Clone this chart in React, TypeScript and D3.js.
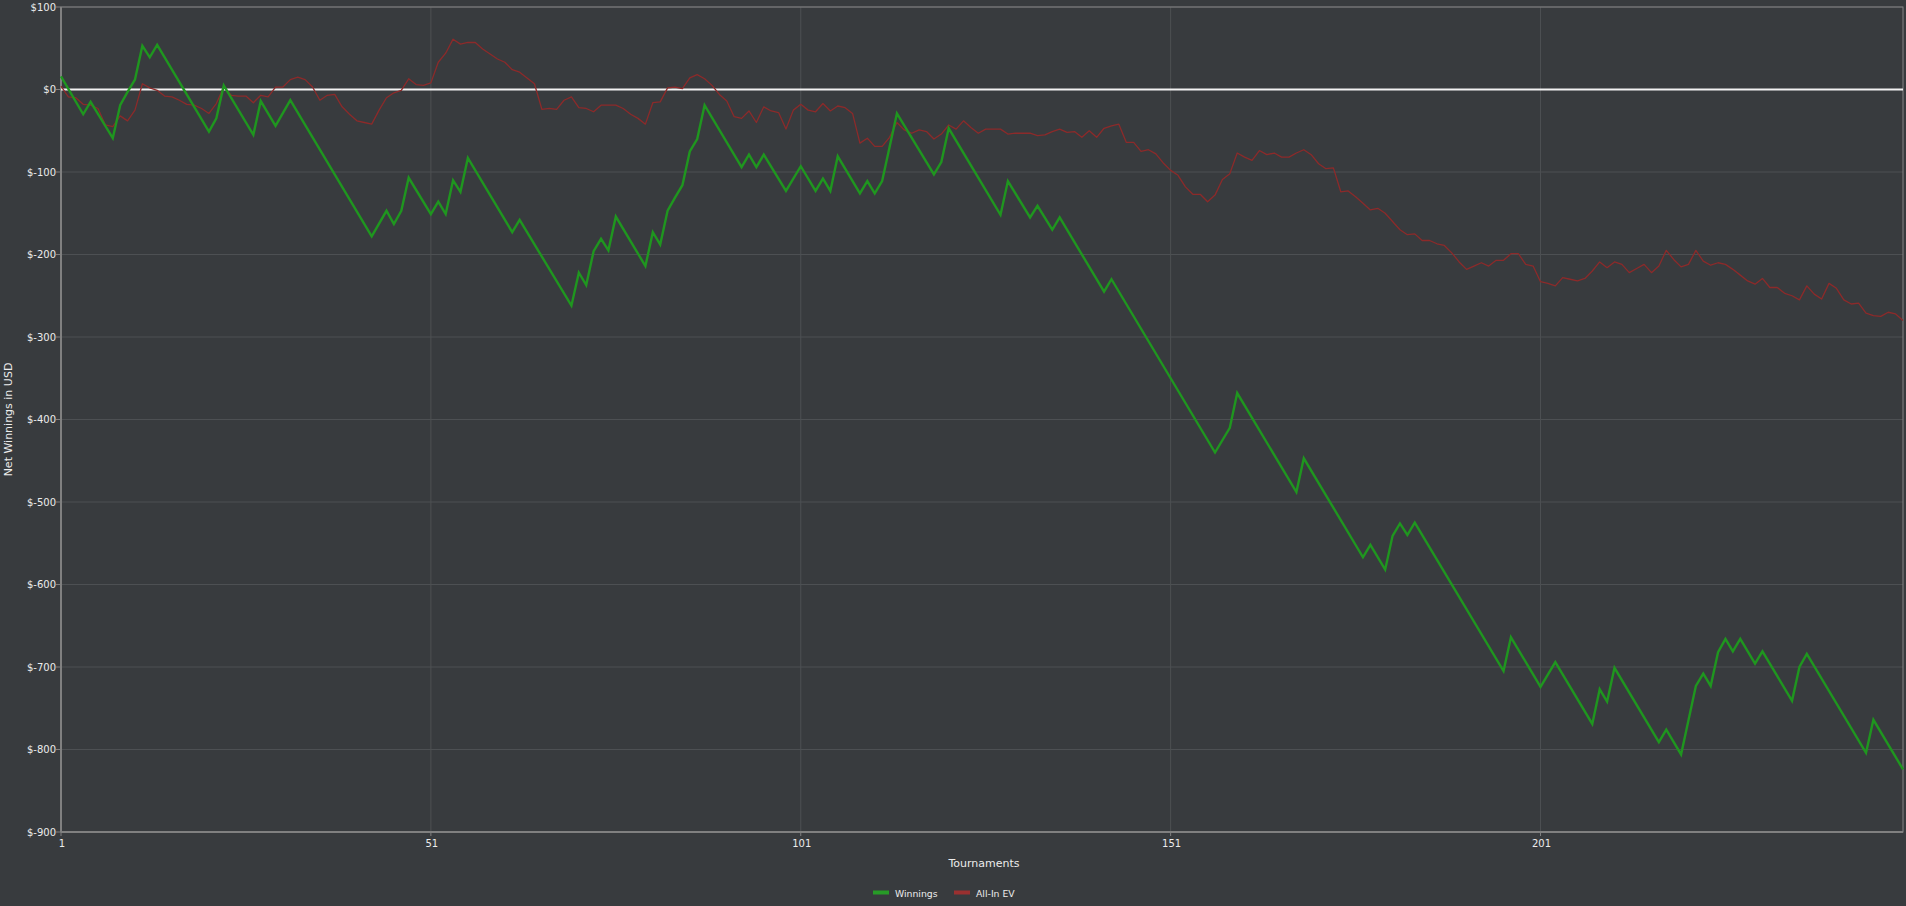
import React, { useEffect, useRef } from 'react';
import * as d3 from 'd3';

// Winnings (green) - turning points of the cumulative line
const winningsAt = [
  1, 4, 5, 8, 9, 10, 11, 12, 13, 14, 21, 22, 23, 27, 28, 30, 32, 43, 45, 46,
  47, 48, 51, 52, 53, 54, 55, 56, 62, 63, 70, 71, 72, 73, 74, 75, 76, 80, 81, 82,
  83, 84, 85, 86, 87, 88, 93, 94, 95, 96, 99, 101, 103, 104, 105, 106, 109, 110, 111, 112,
  114, 119, 120, 121, 128, 129, 132, 133, 135, 136, 142, 143, 157, 159, 160, 168, 169, 177, 178, 180,
  181, 182, 183, 184, 196, 197, 201, 203, 208, 209, 210, 211, 217, 218, 220, 222, 223, 224, 225, 226,
  227, 228, 230, 231, 235, 236, 237, 245, 246, 250,
];
const winnings = [
  16, -30, -15, -59, -19, -3, 12, 53, 39, 54, -51, -35, 5, -55, -14, -44, -13, -178, -147, -163,
  -147, -107, -151, -136, -151, -110, -124, -83, -173, -158, -262, -222, -237, -196, -181, -195, -154, -214, -173, -188,
  -147, -131, -116, -75, -60, -19, -94, -79, -94, -79, -123, -93, -123, -108, -123, -81, -126, -111, -126, -111,
  -29, -103, -88, -47, -152, -111, -155, -141, -170, -155, -245, -230, -440, -410, -368, -488, -447, -567, -552, -582,
  -541, -526, -540, -525, -705, -664, -724, -694, -769, -727, -742, -701, -791, -776, -806, -723, -708, -723, -682, -666,
  -681, -666, -696, -681, -741, -700, -684, -804, -764, -824,
];

// All-In EV (red) - one value per tournament, 1..250
const allInEV = [
  4, -9, -10, -18, -19, -23, -43, -45, -32, -38,
  -25, 7, 2, -1, -8, -9, -13, -18, -19, -23,
  -29, -17, 3, -7, -8, -8, -16, -7, -9, 3,
  3, 12, 15, 12, 3, -13, -7, -6, -21, -30,
  -38, -40, -42, -25, -10, -4, -1, 13, 6, 5,
  8, 33, 44, 61, 55, 57, 57, 49, 43, 37,
  33, 24, 21, 14, 7, -24, -23, -24, -13, -9,
  -22, -23, -27, -19, -19, -19, -23, -30, -35, -42,
  -16, -15, 2, 3, 1, 14, 18, 13, 5, -6,
  -14, -33, -35, -26, -40, -21, -26, -28, -48, -25,
  -18, -25, -27, -17, -26, -20, -22, -29, -65, -59,
  -69, -69, -58, -40, -49, -53, -49, -51, -60, -54,
  -43, -48, -38, -46, -53, -48, -48, -48, -54, -53,
  -53, -53, -56, -55, -51, -48, -52, -51, -58, -50,
  -58, -47, -44, -42, -64, -64, -75, -73, -78, -89,
  -98, -104, -118, -127, -127, -136, -128, -109, -102, -77,
  -82, -86, -74, -79, -77, -82, -82, -77, -73, -79,
  -90, -96, -95, -124, -123, -130, -138, -146, -144, -150,
  -160, -170, -176, -175, -183, -183, -187, -189, -198, -209,
  -218, -214, -210, -214, -207, -207, -199, -199, -212, -214,
  -233, -235, -238, -228, -230, -232, -229, -220, -209, -216,
  -209, -212, -222, -217, -212, -222, -214, -195, -206, -215,
  -212, -195, -208, -213, -210, -212, -218, -225, -232, -236,
  -229, -240, -240, -247, -250, -255, -238, -248, -254, -235,
  -241, -255, -260, -259, -271, -274, -275, -270, -272, -280,
];

const yTicks = [100, 0, -100, -200, -300, -400, -500, -600, -700, -800, -900];
const xTicks = [1, 51, 101, 151, 201];

const legendItems = [
  { name: 'Winnings', color: '#279b27' },
  { name: 'All-In EV', color: '#9a3030' },
];

const WIDTH = 1906;
const HEIGHT = 906;
const FONT = '"DejaVu Sans", Verdana, sans-serif';

export default function App() {
  const ref = useRef<SVGSVGElement>(null);

  useEffect(() => {
    document.body.style.margin = '0';
    document.body.style.background = '#383b3e';
    if (!ref.current) return;
    const svg = d3.select(ref.current);
    svg.selectAll('*').remove();

    const left = 61, right = 1903, top = 7, bottom = 832;

    const x = d3.scaleLinear().domain([1, 250]).range([left, right]);
    const y = d3.scaleLinear().domain([-900, 100]).range([bottom, top]);

    svg.append('rect')
      .attr('width', WIDTH)
      .attr('height', HEIGHT)
      .attr('fill', '#383b3e');

    // grid
    svg.append('g')
      .selectAll('line')
      .data(yTicks)
      .enter()
      .append('line')
      .attr('x1', left)
      .attr('x2', right)
      .attr('y1', d => y(d))
      .attr('y2', d => y(d))
      .attr('stroke', '#4d5053')
      .attr('stroke-width', 1);

    svg.append('g')
      .selectAll('line')
      .data(xTicks.slice(1))
      .enter()
      .append('line')
      .attr('x1', d => x(d))
      .attr('x2', d => x(d))
      .attr('y1', top)
      .attr('y2', bottom)
      .attr('stroke', '#4d5053')
      .attr('stroke-width', 1);

    // frame
    svg.append('rect')
      .attr('x', left)
      .attr('y', top)
      .attr('width', right - left)
      .attr('height', bottom - top)
      .attr('fill', 'none')
      .attr('stroke', '#858585')
      .attr('stroke-width', 1);

    // y axis
    const yAxis = svg.append('g');
    yAxis.append('line')
      .attr('x1', left).attr('x2', left)
      .attr('y1', top).attr('y2', bottom)
      .attr('stroke', '#808080').attr('stroke-width', 2);
    yTicks.forEach(t => {
      yAxis.append('line')
        .attr('x1', left - 5).attr('x2', left)
        .attr('y1', y(t)).attr('y2', y(t))
        .attr('stroke', '#808080');
      yAxis.append('text')
        .attr('x', left - 5)
        .attr('y', y(t))
        .attr('dy', '0.35em')
        .attr('text-anchor', 'end')
        .attr('font-family', FONT)
        .attr('font-size', 10)
        .attr('fill', '#ececec')
        .text(`$${t}`);
    });

    // x axis
    const xAxis = svg.append('g');
    xAxis.append('line')
      .attr('x1', left).attr('x2', right)
      .attr('y1', bottom).attr('y2', bottom)
      .attr('stroke', '#808080').attr('stroke-width', 2);
    xTicks.forEach(t => {
      xAxis.append('line')
        .attr('x1', x(t)).attr('x2', x(t))
        .attr('y1', bottom).attr('y2', bottom + 4)
        .attr('stroke', '#808080');
      xAxis.append('text')
        .attr('x', x(t) + 1)
        .attr('y', 847)
        .attr('text-anchor', 'middle')
        .attr('font-family', FONT)
        .attr('font-size', 10)
        .attr('fill', '#ececec')
        .text(t);
    });

    // axis titles
    svg.append('text')
      .attr('x', (left + right) / 2 + 2)
      .attr('y', 867)
      .attr('text-anchor', 'middle')
      .attr('font-family', FONT)
      .attr('font-size', 11)
      .attr('fill', '#ececec')
      .text('Tournaments');

    svg.append('text')
      .attr('transform', `translate(12, ${(top + bottom) / 2}) rotate(-90)`)
      .attr('text-anchor', 'middle')
      .attr('font-family', FONT)
      .attr('font-size', 11)
      .attr('fill', '#ececec')
      .text('Net Winnings in USD');

    // zero line
    svg.append('line')
      .attr('x1', left).attr('x2', right)
      .attr('y1', y(0)).attr('y2', y(0))
      .attr('stroke', '#f2f2f2')
      .attr('stroke-width', 2);

    // series
    const evLine = d3.line<number>()
      .x((_, i) => x(i + 1))
      .y(d => y(d));

    svg.append('path')
      .datum(allInEV)
      .attr('fill', 'none')
      .attr('stroke', '#8c2a2a')
      .attr('stroke-width', 1.3)
      .attr('stroke-linejoin', 'round')
      .attr('d', evLine);

    const winLine = d3.line<number>()
      .x((_, i) => x(winningsAt[i]))
      .y(d => y(d));

    svg.append('path')
      .datum(winnings)
      .attr('fill', 'none')
      .attr('stroke', '#1f961f')
      .attr('stroke-width', 2.4)
      .attr('stroke-linejoin', 'miter')
      .attr('d', winLine);

    // legend
    const legendX = [873, 954];
    legendItems.forEach((item, i) => {
      svg.append('rect')
        .attr('x', legendX[i])
        .attr('y', 890.5)
        .attr('width', 16)
        .attr('height', 4)
        .attr('fill', item.color);
      svg.append('text')
        .attr('x', legendX[i] + 22)
        .attr('y', 896.5)
        .attr('font-family', FONT)
        .attr('font-size', 9.3)
        .attr('fill', '#ececec')
        .text(item.name);
    });
  }, []);

  return (
    <svg ref={ref} width={WIDTH} height={HEIGHT} style={{ display: 'block' }} />
  );
}
